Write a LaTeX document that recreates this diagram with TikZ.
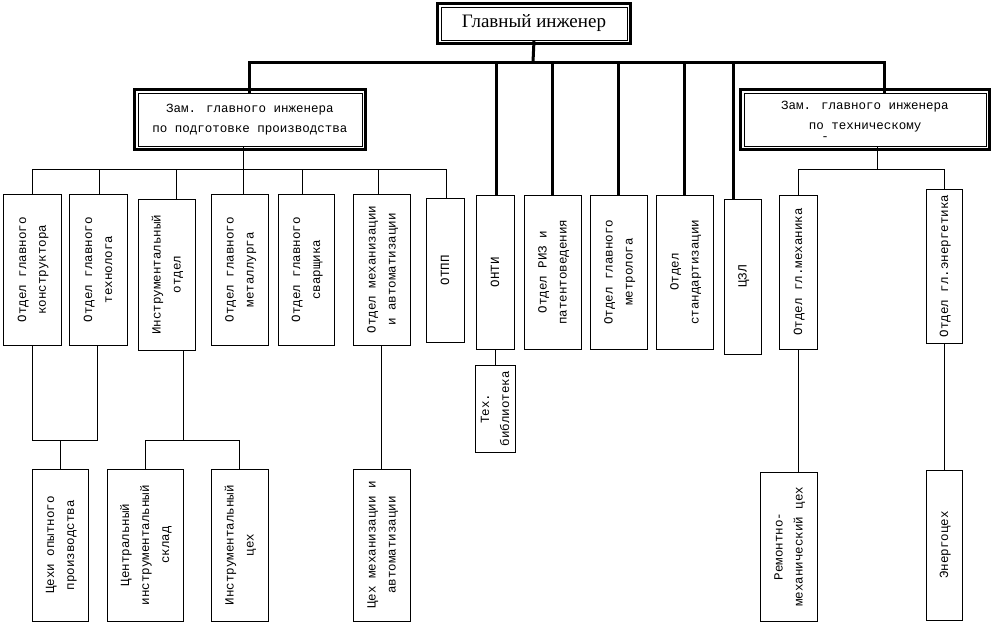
\documentclass[tikz,border=0pt]{standalone}
\usepackage{fontspec}
\usepackage{graphicx}
\usepackage{tikz}
\setmainfont{Liberation Serif}
\newfontfamily\boxfont{Liberation Mono}
\newcommand{\vtext}[1]{\rotatebox{90}{\begin{tabular}{@{}c@{}}#1\end{tabular}}}

\begin{document}
\begin{tikzpicture}[x=1pt, y=-1pt,
  unitbox/.style={draw, line width=0.9pt, inner sep=0pt, font=\boxfont\fontsize{12.5}{20}\selectfont},
  deputy/.style={draw, line width=0.9pt, inner sep=0pt, align=center, font=\boxfont\fontsize{12.5}{20.5}\selectfont},
  mainline/.style={line width=3pt},
  subline/.style={line width=0.9pt}]
\useasboundingbox (0,0) rectangle (993,624);
\fill[white] (0,0) rectangle (993,624);

% Chief engineer and his two deputies
\node (chief) at (534,23.5) [draw, line width=0.9pt, minimum width=186, minimum height=33, font=\fontsize{19}{22}\selectfont] {Главный инженер};
\node (depL) at (250,119.5) [deputy, minimum width=224, minimum height=53] {Зам. главного инженера\\по подготовке производства};
\node (depR) at (865,119.5) [deputy, minimum width=242, minimum height=53] {};
\node (depRtext) at (865,116.5) [align=center, inner sep=0pt, font=\boxfont\fontsize{12.5}{19.5}\selectfont] {Зам. главного инженера\\по техническому};
\node (dash) at (825,139) [inner sep=0pt, font=\boxfont\fontsize{12.5}{20}\selectfont] {-};

% Thick outer frames
\foreach \n in {chief,depL,depR} {
    \draw[line width=3.6pt] ([xshift=-3.2pt,yshift=3.2pt]\n.north west) rectangle ([xshift=3.2pt,yshift=-3.2pt]\n.south east);
}

% First row of departments
\node (konstr) at (32,269.5) [unitbox, minimum width=58, minimum height=151] {\vtext{Отдел главного\\конструктора}};
\node (technol) at (98,269.5) [unitbox, minimum width=58, minimum height=151] {\vtext{Отдел главного\\технолога}};
\node (instr) at (166.5,274.5) [unitbox, minimum width=57, minimum height=151] {\vtext{Инструментальный\\отдел}};
\node (metall) at (239.5,269.5) [unitbox, minimum width=57, minimum height=151] {\vtext{Отдел главного\\металлурга}};
\node (svar) at (306,269.5) [unitbox, minimum width=56, minimum height=151] {\vtext{Отдел главного\\сварщика}};
\node (mechaut) at (381.5,269.5) [unitbox, minimum width=57, minimum height=151] {\vtext{Отдел механизации\\и автоматизации}};
\node (otpp) at (445,270) [unitbox, minimum width=38, minimum height=144] {\vtext{ОТПП}};
\node (onti) at (495,272) [unitbox, minimum width=38, minimum height=154] {\vtext{ОНТИ}};
\node (riz) at (552.5,272) [unitbox, minimum width=57, minimum height=154] {\vtext{Отдел РИЗ и\\патентоведения}};
\node (metrol) at (618.5,272) [unitbox, minimum width=57, minimum height=154] {\vtext{Отдел главного\\метролога}};
\node (standart) at (684.5,272) [unitbox, minimum width=57, minimum height=154] {\vtext{Отдел\\стандартизации}};
\node (czl) at (742.5,276.5) [unitbox, minimum width=37, minimum height=155] {\vtext{ЦЗЛ}};
\node (glmech) at (798,272) [unitbox, minimum width=38, minimum height=154] {\vtext{Отдел гл.механика}};
\node (glenerg) at (944,266) [unitbox, minimum width=36, minimum height=154] {\vtext{Отдел гл.энергетика}};

% Second row: shops
\node (bibl) at (495,408.5) [unitbox, minimum width=38, minimum height=87] {\vtext{Тех.\\библиотека}};
\node (cehi) at (60,545) [unitbox, minimum width=56, minimum height=152] {\vtext{Цехи опытного\\производства}};
\node (sklad) at (145,545) [unitbox, minimum width=76, minimum height=152] {\vtext{Центральный\\инструментальный\\склад}};
\node (instrceh) at (239.5,545) [unitbox, minimum width=57, minimum height=152] {\vtext{Инструментальный\\цех}};
\node (cehmech) at (381.5,545) [unitbox, minimum width=57, minimum height=152] {\vtext{Цех механизации и\\автоматизации}};
\node (remmech) at (788.5,546.5) [unitbox, minimum width=57, minimum height=149] {\vtext{Ремонтно-\\механический цех}};
\node (energ) at (944,545) [unitbox, minimum width=36, minimum height=150] {\vtext{Энергоцех}};

% Top bus
\coordinate (busC) at (533,62);
\draw[mainline] (chief.south) -- (busC);
\draw[mainline] (249,62 |- depL.north) -- (249,62) -- (884,62) -- (884,62 |- depR.north);
\foreach \n/\x in {onti/496, riz/552, metrol/618, standart/684, czl/733} {
    \draw[mainline] (\x,62) -- (\x,62 |- \n.north);
}

% Bus under the first deputy
\draw[subline] (243,169) -- (243,169 |- depL.south);
\draw[subline] (32,169 |- konstr.north) -- (32,169) -- (446,169) -- (446,169 |- otpp.north);
\foreach \n/\x in {technol/99, instr/176, metall/243, svar/302, mechaut/378} {
    \draw[subline] (\x,169) -- (\x,169 |- \n.north);
}

% Bus under the second deputy
\draw[subline] (877,169) -- (877,169 |- depR.south);
\draw[subline] (798,169 |- glmech.north) -- (798,169) -- (944,169) -- (944,169 |- glenerg.north);

% Links to the shops
\draw[subline] (32,440 |- konstr.south) -- (32,440) -- (97,440) -- (97,440 |- technol.south);
\draw[subline] (60,440) -- (60,440 |- cehi.north);
\draw[subline] (183,440 |- instr.south) -- (183,440);
\draw[subline] (145,440 |- sklad.north) -- (145,440) -- (239,440) -- (239,440 |- instrceh.north);
\draw[subline] (381,0 |- mechaut.south) -- (381,0 |- cehmech.north);
\draw[subline] (onti.south) -- (bibl.north);
\draw[subline] (glmech.south) -- (glmech.south |- remmech.north);
\draw[subline] (glenerg.south) -- (energ.north);

\end{tikzpicture}
\end{document}
